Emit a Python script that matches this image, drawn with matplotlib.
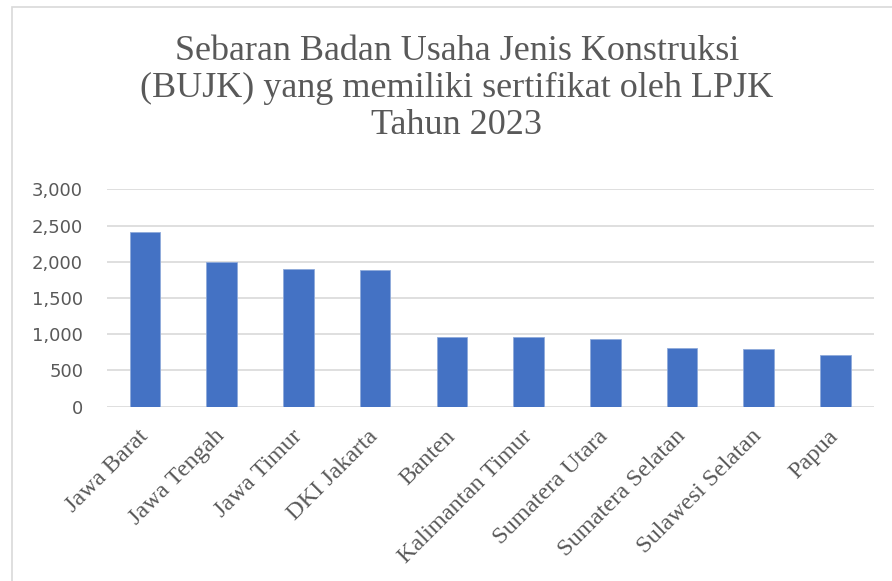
import matplotlib
matplotlib.use("Agg")
import matplotlib.pyplot as plt
from matplotlib.patches import Rectangle

categories = ["Jawa Barat", "Jawa Tengah", "Jawa Timur", "DKI Jakarta", "Banten",
              "Kalimantan Timur", "Sumatera Utara", "Sumatera Selatan",
              "Sulawesi Selatan", "Papua"]
values = [2410, 2000, 1900, 1885, 960, 960, 930, 805, 790, 718]
yticks = [0, 500, 1000, 1500, 2000, 2500, 3000]
ytick_labels = ["0", "500", "1,000", "1,500", "2,000", "2,500", "3,000"]
title = "Sebaran Badan Usaha Jenis Konstruksi\n(BUJK) yang memiliki sertifikat oleh LPJK\nTahun 2023"

W, H = 892, 581
fig = plt.figure(figsize=(W / 100, H / 100), dpi=100)
fig.patch.set_facecolor("white")

# chart border (top/left visible, rest cropped)
fig.add_artist(Rectangle((12 / W, -0.05), 1.1, 1 - 7 / H + 0.05,
                         transform=fig.transFigure, fill=False,
                         edgecolor="#d9d9d9", linewidth=1.2))

left, right = 106.7 / W, 873.7 / W
bottom, top = (H - 406.7) / H, (H - 189.3) / H
ax = fig.add_axes([left, bottom, right - left, top - bottom])

x = list(range(len(categories)))
ax.bar(x, values, width=0.4, color="#4472C4", edgecolor="#8eaadb", linewidth=0.6, zorder=3)
ax.set_xlim(-0.5, len(categories) - 0.5)
ax.set_ylim(0, 3000)
ax.set_yticks(yticks)
ax.set_yticklabels(ytick_labels, fontfamily="DejaVu Sans", fontsize=13, color="#595959")
ax.yaxis.grid(True, color="#d9d9d9", linewidth=1.2, zorder=0)
ax.set_axisbelow(True)
for s in ax.spines.values():
    s.set_visible(False)
ax.tick_params(axis="y", length=0, pad=17)
ax.tick_params(axis="x", length=0, pad=19)
ax.set_xticks(x)
ax.set_xticklabels(categories, rotation=45, ha="right", va="center", rotation_mode="anchor",
                   fontfamily="Liberation Serif", fontsize=17.5, color="#595959")

fig.text(0.512, 0.94, title, ha="center", va="top", fontfamily="Liberation Serif",
         fontsize=26, color="#595959", linespacing=1.17)

fig.savefig("out.png", dpi=100)
